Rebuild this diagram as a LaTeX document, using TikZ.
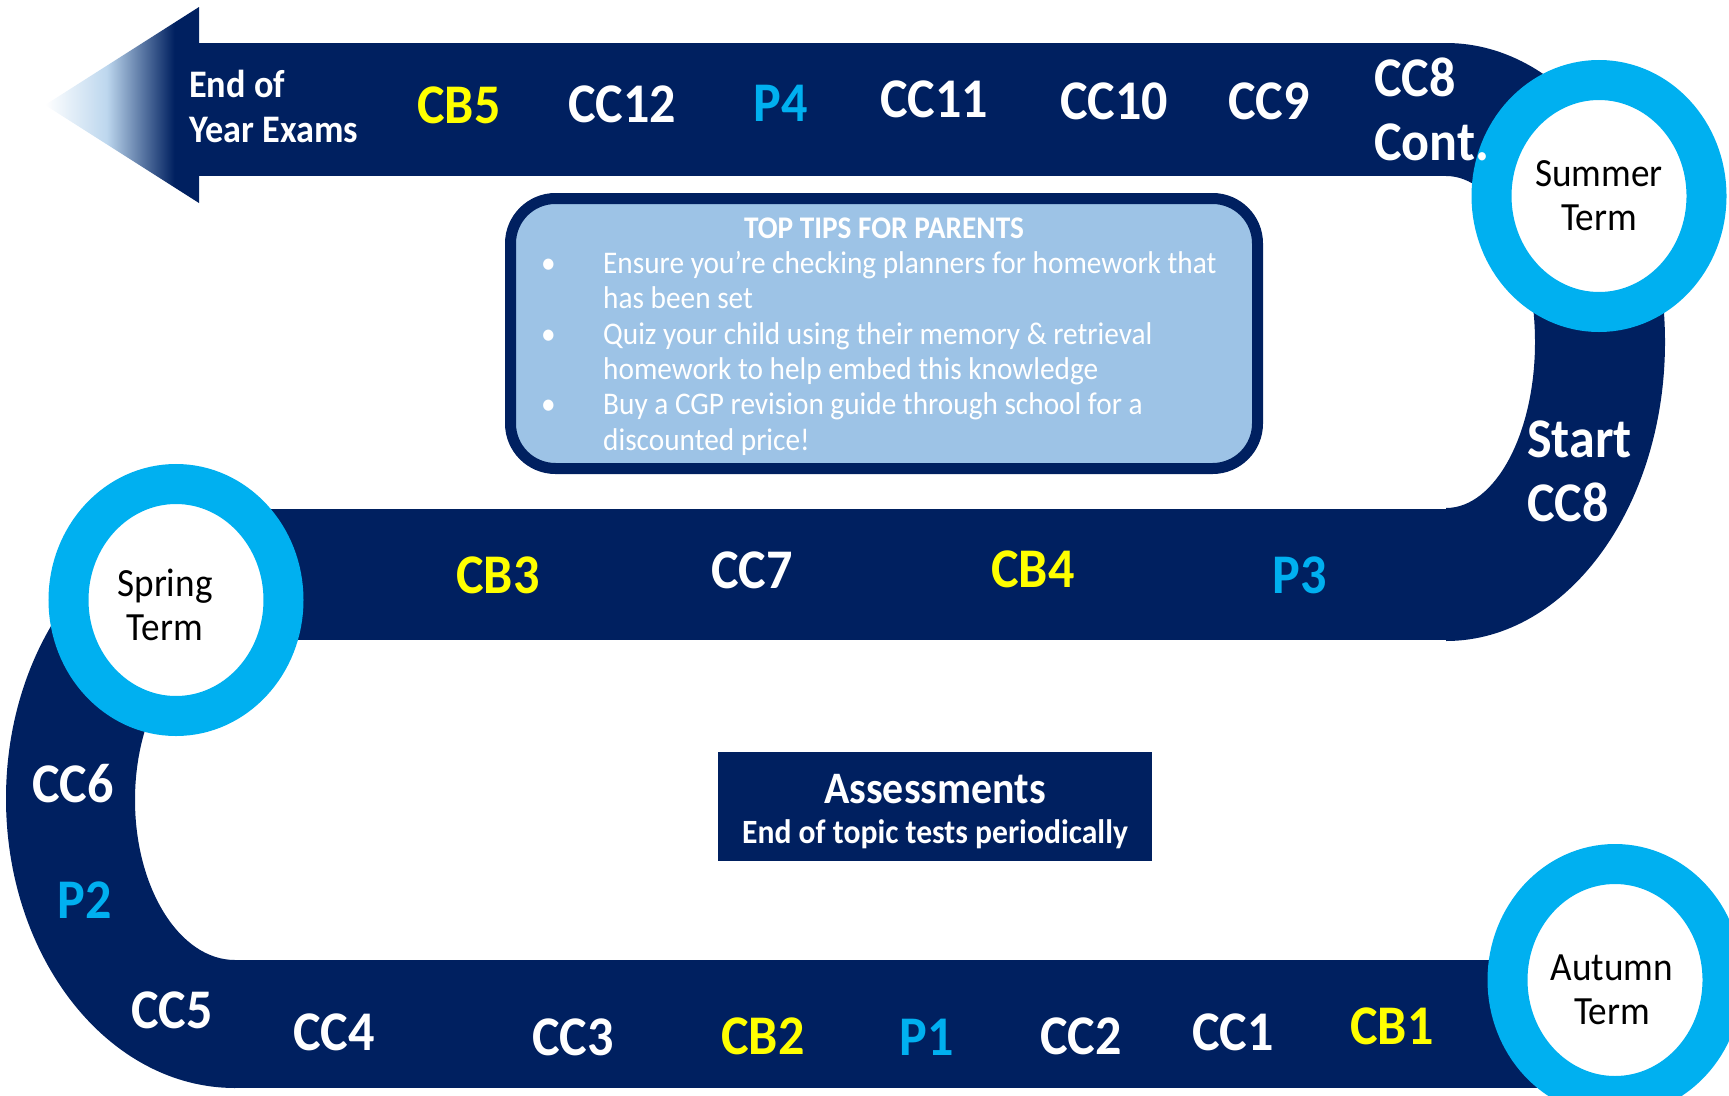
\documentclass[tikz,border=0pt]{standalone}
\usepackage{fontspec}
\setmainfont{Carlito}[FakeStretch=0.93]
\usetikzlibrary{shapes.geometric}

\definecolor{navy}{HTML}{002060}
\definecolor{ringblue}{HTML}{00B0F0}
\definecolor{tipfill}{HTML}{9DC3E6}
\definecolor{fadeblue}{HTML}{BDD7EE}
\definecolor{cbyellow}{HTML}{FFFF00}

\pgfdeclarehorizontalshading{arrowfade}{100bp}{color(0bp)=(white); color(25bp)=(white);
  color(45bp)=(fadeblue); color(67bp)=(navy); color(100bp)=(navy)}

\tikzset{
  stage/.style={text=white, font=\bfseries\fontsize{56}{64}\selectfont, inner sep=0pt, anchor=base},
  bench/.style={stage, text=cbyellow},
  paper/.style={stage, text=ringblue},
  term/.style={ellipse, draw=ringblue, line width=40pt, fill=white, minimum width=215pt,
    minimum height=232pt, inner sep=0pt},
  termname/.style={align=center, inner sep=0pt, font=\fontsize{40}{44}\selectfont},
  tipsbox/.style={draw=navy, fill=tipfill, line width=11pt, rounded corners=45pt,
    minimum width=747pt, minimum height=270pt},
  tipline/.style={text=white, inner sep=0pt, align=left, font=\fontsize{31.5}{35.3}\selectfont}
}

\begin{document}
\begin{tikzpicture}[x=1pt, y=-1pt]
		\useasboundingbox (0,0) rectangle (1729,1095);
		
		% the road
		\fill[navy] (199,43) rectangle (1450,176);
		\shade[shading=arrowfade] (45,105) -- (199,7) -- (199,203) -- cycle;
		\fill[navy] (1446,43) arc[start angle=-90, end angle=90, x radius=219, y radius=299]
			-- (1446,508) arc[start angle=90, end angle=-90, x radius=89, y radius=166] -- cycle;
		\fill[navy] (231,509) rectangle (1450,640);
		\fill[navy] (235,509) arc[start angle=-90, end angle=-270, x radius=229, y radius=289.5]
			-- (235,960) arc[start angle=90, end angle=270, x radius=100, y radius=160] -- cycle;
		\fill[navy] (231,960) rectangle (1640,1088);
		
		% terms
		\node[term] (summer) at (1599,196) {};
		\node[term] (spring) at (176,600) {};
		\node[term] (autumn) at (1615,980) {};
		\node[termname] (summername) at (summer) {Summer\\Term};
		\node[termname] (springname) at (165,605) {Spring\\Term};
		\node[termname] (autumnname) at (1612,990) {Autumn\\Term};
		
		% tips and assessments
		\node[tipsbox] (tips) at (884,333.5) {};
		\node[text=white, inner sep=0pt, anchor=base, font=\bfseries\fontsize{31.5}{35.3}\selectfont] (tipstitle) at (884,238) {TOP TIPS FOR PARENTS};
		\node[tipline, anchor=base west] (tiplist) at (541,450) {\makebox[62pt][l]{\textbullet}Ensure you’re checking planners for homework that\\
			\hspace*{62pt}has been set\\
			\makebox[62pt][l]{\textbullet}Quiz your child using their memory \& retrieval\\
			\hspace*{62pt}homework to help embed this knowledge\\
			\makebox[62pt][l]{\textbullet}Buy a CGP revision guide through school for a\\
			\hspace*{62pt}discounted price!};
		\node[fill=navy, minimum width=434pt, minimum height=109pt] (assess) at (935,806.5) {};
		\node[text=white, inner sep=0pt, align=center, font=\bfseries\fontsize{45}{40}\selectfont] (assesstext) at (935,812)
			{Assessments\\{\fontsize{34}{40}\selectfont End of topic tests periodically}};
		
		% top row
		\node[stage, anchor=base west, align=left, font=\bfseries\fontsize{39}{45}\selectfont] (exams) at (189,142) {End of\\Year Exams};
		\node[bench] (cb5) at (459,123) {CB5};
		\node[stage] (cc12) at (622,122) {CC12};
		\node[paper] (p4) at (781,121) {P4};
		\node[stage] (cc11) at (934,117) {CC11};
		\node[stage] (cc10) at (1114,119) {CC10};
		\node[stage] (cc9) at (1269,119) {CC9};
		\node[stage, anchor=base west, align=left] (cc8cont) at (1374,160) {CC8\\Cont.};
		\node[stage, anchor=base west, align=left] (cc8start) at (1527,521) {Start\\CC8};
		
		% middle row
		\node[bench] (cb3) at (498,593) {CB3};
		\node[stage] (cc7) at (752,588) {CC7};
		\node[bench] (cb4) at (1033,587) {CB4};
		\node[paper] (p3) at (1300,593) {P3};
		
		% left bend and bottom row
		\node[stage] (cc6) at (73,802) {CC6};
		\node[paper] (p2) at (85,918) {P2};
		\node[stage] (cc5) at (172,1028) {CC5};
		\node[stage] (cc4) at (334,1050) {CC4};
		\node[stage] (cc3) at (573,1055) {CC3};
		\node[bench] (cb2) at (763,1054) {CB2};
		\node[paper] (p1) at (927,1055) {P1};
		\node[stage] (cc2) at (1081,1054) {CC2};
		\node[stage] (cc1) at (1233,1050) {CC1};
		\node[bench] (cb1) at (1392,1044) {CB1};
	\end{tikzpicture}
\end{document}
